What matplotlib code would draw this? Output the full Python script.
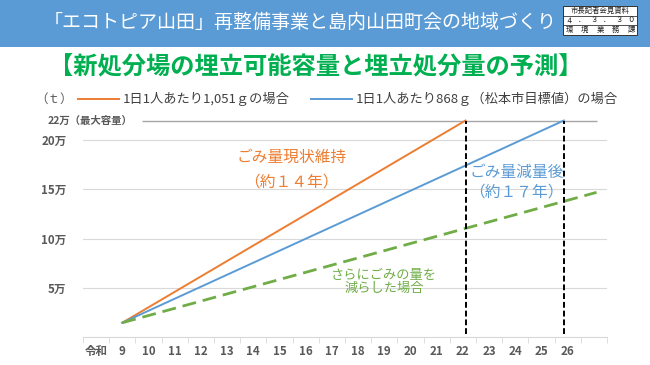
import numpy as np
import matplotlib.pyplot as plt
from matplotlib.patches import Rectangle
from matplotlib.lines import Line2D

plt.rcParams['font.family'] = ['Noto Sans CJK JP', 'DejaVu Sans']

# categories on the x axis (令和 year)
cat_labels = ['令和'] + [str(y) for y in range(9, 27)] + ['']
cat_pos = np.arange(8, 28)

# series: start / end points (year, tons)
orange_x = [9, 22.1]
orange_y = [14500, 220000]
blue_x = [9, 25.85]
blue_y = [14500, 220000]
green_x = [9, 27.1]
green_y = [14500, 147000]

capacity = 220000
limit_years = [22.1, 25.85]

ytick_vals = [50000, 100000, 150000, 200000]
ytick_labels = ['5万', '10万', '15万', '20万']

orange = '#ed7d31'
blue = '#5b9bd5'
green = '#70ad47'
gray_txt = '#595959'

W, H = 650, 365
fig = plt.figure(figsize=(6.5, 3.65), dpi=100)

# ---- header band ----
fig.patches.append(Rectangle((0, 1 - 46.7 / H), 1, 46.7 / H, transform=fig.transFigure,
                             facecolor='#5b9bd5', edgecolor='none', zorder=0))
fig.text(300 / W, 1 - 22 / H, '「エコトピア山田」再整備事業と島内山田町会の地域づくり',
         color='white', fontsize=13.7, ha='center', va='center')

# small stamp box
bx0, bx1, by0, by1 = 563, 637, 6, 35
fig.patches.append(Rectangle((bx0 / W, 1 - by1 / H), (bx1 - bx0) / W, (by1 - by0) / H,
                             transform=fig.transFigure, facecolor='white',
                             edgecolor='#333333', lw=0.7, zorder=1))
for yy in [15.5, 25.3]:
    fig.lines.append(Line2D([bx0 / W, bx1 / W], [1 - yy / H, 1 - yy / H],
                            transform=fig.transFigure, color='#333333', lw=0.6))
fig.text((bx0 + bx1) / 2 / W, 1 - 10.7 / H, '市長記者会見資料', fontsize=5.3,
         ha='center', va='center', color='#222222')
for row_y, chars in [(20.4, ['４', '．', '３', '．', '３', '０']),
                     (30.2, ['環', '境', '業', '務', '課'])]:
    for cx, ch in zip(np.linspace(bx0 + 6, bx1 - 6, len(chars)), chars):
        fig.text(cx / W, 1 - row_y / H, ch, fontsize=5.3, ha='center', va='center',
                 color='#222222')

# green title
fig.text(316 / W, 1 - 67 / H, '【新処分場の埋立可能容量と埋立処分量の予測】',
         color='#00b050', fontsize=17.5, fontweight='bold', ha='center', va='center')

# ---- chart ----
ax = fig.add_axes([83 / W, 28 / H, 524 / W, 226.3 / H])
ax.set_xlim(7.5, 27.5)
ax.set_ylim(0, 230000)

for v in ytick_vals:
    ax.axhline(v, color='#d9d9d9', lw=0.8, zorder=1)
ax.hlines(capacity, 9.75, 27.1, color='#a6a6a6', lw=1.0, zorder=1)

l1, = ax.plot(orange_x, orange_y, color=orange, lw=1.4, zorder=3,
              label='1日1人あたり1,051ｇの場合')
l2, = ax.plot(blue_x, blue_y, color=blue, lw=1.4, zorder=3,
              label='1日1人あたり868ｇ（松本市目標値）の場合')
ax.plot(green_x, green_y, color=green, lw=2, ls=(0, (5, 2.5)), zorder=3)

for yr in limit_years:
    ax.vlines(yr, 3500, capacity, color='black', lw=1.4, linestyles=(0, (3, 1.5)),
              zorder=4, clip_on=False)

# axes styling
for s in ['top', 'right', 'left']:
    ax.spines[s].set_visible(False)
ax.spines['bottom'].set_color('#d9d9d9')
ax.set_xticks(cat_pos)
ax.set_xticklabels(cat_labels, fontsize=8.3, fontweight='bold', color=gray_txt)
ax.set_xticks(np.arange(7.5, 27.6, 1), minor=True)
ax.tick_params(axis='x', which='major', length=0, pad=6)
ax.tick_params(axis='x', which='minor', length=4, color='#d9d9d9')
ax.set_yticks(ytick_vals)
ax.set_yticklabels(ytick_labels, fontsize=8.3, fontweight='bold', color=gray_txt)
ax.tick_params(axis='y', length=0, pad=12)

ax.text(-35 / 524, capacity, '22万（最大容量）', transform=ax.get_yaxis_transform(),
        fontsize=7.5, fontweight='bold', color=gray_txt, ha='left', va='center')

# annotations
ax.text(15.45, 183000, 'ごみ量現状維持', color=orange, fontsize=11.3, ha='center', va='center')
ax.text(15.45, 158000, '（約１４年）', color=orange, fontsize=11.3, ha='center', va='center')
ax.text(24.05, 167500, 'ごみ量減量後', color=blue, fontsize=11.3, ha='center', va='center')
ax.text(24.05, 147000, '（約１７年）', color=blue, fontsize=11.3, ha='center', va='center')
ax.text(19.0, 56000, 'さらにごみの量を\n減らした場合', color=green, fontsize=9.5,
        ha='center', va='center', linespacing=1.05)

# legend
fig.text(54 / W, 1 - 99 / H, '（ｔ）', fontsize=9, color=gray_txt, ha='center', va='center')
fig.legend(handles=[l1, l2], loc='center left', bbox_to_anchor=(78 / W, 1 - 99 / H),
           ncol=2, frameon=False, fontsize=9.5, handlelength=3.1, handletextpad=0.3,
           columnspacing=1.6, borderpad=0, borderaxespad=0, labelcolor='#404040')

fig.savefig('out.png', dpi=100)
